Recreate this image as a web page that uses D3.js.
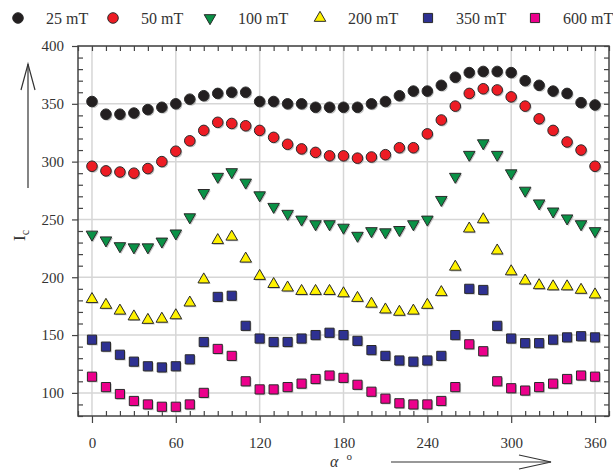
<!DOCTYPE html>
<html>
<head>
<meta charset="utf-8">
<script src="https://cdn.jsdelivr.net/npm/d3@7"></script>
<style>
  body { margin: 0; background: #fff; }
  svg { display: block; font-family: "Liberation Serif", "Times New Roman", serif; }
</style>
</head>
<body>
<svg id="chart" width="613" height="472"></svg>
<script>
// angle (degrees), one reading every 10 degrees
var angles = d3.range(0, 361, 10);

var ic25 = [352, 341, 341, 342, 345, 347, 350, 354, 357, 359, 360, 360, 352, 352, 350, 350, 347, 347, 347,
            347, 350, 352, 357, 361, 361, 366, 373, 377, 378, 378, 377, 370, 366, 361, 359, 351, 349];
var ic50 = [296, 292, 291, 290, 294, 300, 309, 318, 327, 334, 333, 331, 327, 321, 315, 311, 308, 305, 305,
            303, 304, 306, 312, 312, 324, 336, 348, 359, 363, 362, 356, 348, 337, 327, 317, 310, 296];
var ic100 = [237, 232, 227, 226, 226, 231, 238, 252, 273, 287, 291, 282, 271, 261, 255, 250, 246, 246, 243,
             236, 240, 239, 241, 246, 250, 267, 287, 306, 316, 306, 290, 275, 264, 257, 251, 246, 240];
var ic200 = [181, 176, 171, 166, 163, 164, 167, 178, 198, 232, 235, 216, 201, 194, 191, 188, 188, 188, 186,
             182, 177, 172, 170, 171, 176, 187, 209, 242, 250, 223, 205, 197, 193, 192, 192, 189, 185];
var ic350 = [146, 140, 133, 127, 123, 122, 123, 129, 144, 183, 184, 158, 147, 144, 144, 147, 150, 152, 150,
             145, 137, 132, 128, 127, 128, 132, 150, 190, 189, 158, 147, 143, 143, 146, 148, 149, 148];
var ic600 = [114, 105, 99, 93, 90, 88, 88, 90, 100, 138, 132, 110, 103, 103, 105, 108, 112, 115, 113,
             107, 101, 95, 91, 90, 90, 93, 105, 142, 136, 110, 104, 102, 105, 108, 112, 115, 114];

var seriesNames = ['25 mT', '50 mT', '100 mT', '200 mT', '350 mT', '600 mT'];
var seriesValues = [ic25, ic50, ic100, ic200, ic350, ic600];

var xMajorTicks = [0, 60, 120, 180, 240, 300, 360];
var yMajorTicks = [100, 150, 200, 250, 300, 350, 400];

// marker style per series
var styles = [
  { fill: '#231f20', shape: d3.symbolCircle, size: 88, rot: 0 },
  { fill: '#ed1c24', shape: d3.symbolCircle, size: 88, rot: 0 },
  { fill: '#0a9146', shape: d3.symbolTriangle, size: 58, rot: 180 },
  { fill: '#fff200', shape: d3.symbolTriangle, size: 58, rot: 0 },
  { fill: '#2e3192', shape: d3.symbolSquare, size: 84, rot: 0 },
  { fill: '#ec008c', shape: d3.symbolSquare, size: 84, rot: 0 }
];

var svg = d3.select('#chart');

var plotL = 78, plotR = 609, plotT = 46, plotB = 416;

var x = d3.scaleLinear().domain([-10, 370]).range([plotL, plotR]);
var y = d3.scaleLinear().domain([80, 400]).range([plotB, plotT]);

// grid lines
var grid = svg.append('g').attr('class', 'grid')
  .style('stroke', '#d6d6d6')
  .style('stroke-width', 1.5);

grid.selectAll('line.vx')
  .data(xMajorTicks)
  .enter()
  .append('line')
  .attr('class', 'vx')
  .attr('x1', function (d) { return x(d); })
  .attr('x2', function (d) { return x(d); })
  .attr('y1', plotT)
  .attr('y2', plotB);

grid.selectAll('line.hy')
  .data(yMajorTicks)
  .enter()
  .append('line')
  .attr('class', 'hy')
  .attr('x1', plotL)
  .attr('x2', plotR)
  .attr('y1', function (d) { return y(d); })
  .attr('y2', function (d) { return y(d); });

// axes: major ticks outward with labels, minor ticks inward
var xMinor = d3.range(-10, 371, 10).filter(function (v) { return v % 60 !== 0; });
var yMinor = d3.range(80, 401, 10).filter(function (v) { return v % 50 !== 0; });

function styleAxis(g) {
  g.select('.domain').remove();
  g.selectAll('line').style('stroke', '#444').style('stroke-width', 1.2);
  g.selectAll('text')
    .style('font-family', '"Liberation Serif", "Times New Roman", serif')
    .style('font-size', '15px')
    .style('fill', '#333');
}

svg.append('g')
  .attr('transform', 'translate(0,' + plotB + ')')
  .call(d3.axisBottom(x).tickValues(xMajorTicks).tickSize(7).tickPadding(14).tickFormat(d3.format('d')))
  .call(styleAxis);

svg.append('g')
  .attr('transform', 'translate(0,' + plotB + ')')
  .call(d3.axisBottom(x).tickValues(xMinor).tickSize(-5).tickFormat(''))
  .call(styleAxis);

svg.append('g')
  .attr('transform', 'translate(0,' + plotT + ')')
  .call(d3.axisTop(x).tickValues(xMinor.concat(xMajorTicks)).tickSize(-5).tickFormat(''))
  .call(styleAxis);

svg.append('g')
  .attr('transform', 'translate(' + plotL + ',0)')
  .call(d3.axisLeft(y).tickValues(yMajorTicks).tickSize(6).tickPadding(8).tickFormat(d3.format('d')))
  .call(styleAxis);

svg.append('g')
  .attr('transform', 'translate(' + plotL + ',0)')
  .call(d3.axisLeft(y).tickValues(yMinor).tickSize(-5).tickFormat(''))
  .call(styleAxis);

svg.append('g')
  .attr('transform', 'translate(' + plotR + ',0)')
  .call(d3.axisRight(y).tickValues(yMinor.concat(yMajorTicks)).tickSize(-5).tickFormat(''))
  .call(styleAxis);

// frame
svg.append('rect')
  .attr('x', plotL)
  .attr('y', plotT)
  .attr('width', plotR - plotL)
  .attr('height', plotB - plotT)
  .style('fill', 'none')
  .style('stroke', '#444')
  .style('stroke-width', 1.5);

// markers
function symbolPath(st) {
  return d3.symbol().type(st.shape).size(st.size)();
}

seriesValues.forEach(function (vals, si) {
  var st = styles[si];
  var g = svg.append('g').attr('class', 'series-' + si);
  var pts = angles.map(function (a, i) { return [a, vals[i]]; });

  // soft shadow
  g.selectAll('path.shadow')
    .data(pts)
    .enter()
    .append('path')
    .attr('class', 'shadow')
    .attr('d', symbolPath(st))
    .attr('transform', function (d) {
      return 'translate(' + (x(d[0]) + 1.2) + ',' + (y(d[1]) + 1.2) + ') rotate(' + st.rot + ')';
    })
    .style('fill', '#999')
    .style('opacity', 0.6);

  g.selectAll('path.mark')
    .data(pts)
    .enter()
    .append('path')
    .attr('class', 'mark')
    .attr('d', symbolPath(st))
    .attr('transform', function (d) {
      return 'translate(' + x(d[0]) + ',' + y(d[1]) + ') rotate(' + st.rot + ')';
    })
    .style('fill', st.fill)
    .style('stroke', '#2a2a2a')
    .style('stroke-width', 1);
});

// legend
var legendX = [18, 113, 210, 320, 428, 535];
var legend = svg.append('g').attr('class', 'legend');

seriesNames.forEach(function (name, i) {
  var st = styles[i];
  legend.append('path')
    .attr('d', symbolPath(st))
    .attr('transform', 'translate(' + legendX[i] + ',18) rotate(' + st.rot + ')')
    .style('fill', st.fill)
    .style('stroke', '#2a2a2a')
    .style('stroke-width', 1);

  legend.append('text')
    .attr('x', legendX[i] + 28)
    .attr('y', 24)
    .text(name)
    .style('font-size', '16px')
    .style('fill', '#333');
});

// y axis title with arrow
var ytitle = svg.append('text')
  .attr('transform', 'translate(25,241) rotate(-90)')
  .style('font-size', '17px')
  .style('fill', '#333');
ytitle.append('tspan').text('I');
ytitle.append('tspan').attr('dy', 4).style('font-size', '12px').text('c');

var arrows = svg.append('g')
  .style('stroke', '#333')
  .style('stroke-width', 1.2)
  .style('fill', 'none');

arrows.append('line').attr('x1', 28).attr('y1', 188).attr('x2', 28).attr('y2', 64);
arrows.append('path').attr('d', 'M21,90 L28,64 L35,90');

// x axis title with arrow
var xtitle = svg.append('text')
  .attr('x', 330)
  .attr('y', 467)
  .style('font-size', '16px')
  .style('fill', '#333');
xtitle.append('tspan').style('font-style', 'italic').text('α');
xtitle.append('tspan').attr('dx', 8).attr('dy', -7).style('font-size', '11px').text('o');

arrows.append('line').attr('x1', 391).attr('y1', 462).attr('x2', 551).attr('y2', 462);
arrows.append('path').attr('d', 'M519,455 L551,462 L519,469');
</script>
</body>
</html>
